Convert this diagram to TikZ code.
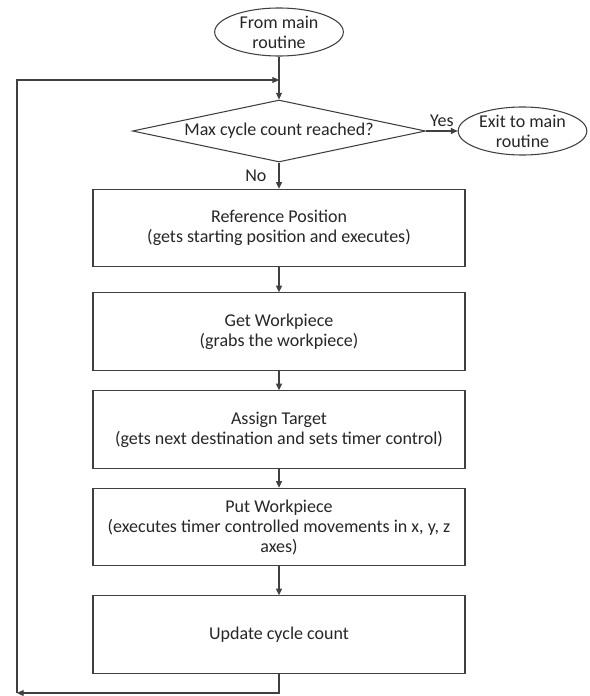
\documentclass[tikz,border=0pt]{standalone}
\usepackage{fontspec}
\setmainfont{Carlito}
\usetikzlibrary{shapes.geometric,arrows.meta}
\begin{document}
\begin{tikzpicture}[x=0.75pt,y=-0.75pt,
  every node/.style={font=\fontsize{13.5}{15}\selectfont, text=black!85},
  line/.style={draw=black!75, line width=0.8pt},
  arr/.style={line, -{Triangle[length=5pt,width=4.5pt]}},
  term/.style={ellipse, line, minimum width=96.5pt, minimum height=36pt, inner sep=0pt, align=center},
  proc/.style={rectangle, line, minimum width=279pt, minimum height=58pt, inner sep=0pt, align=center},
  decis/.style={diamond, line, aspect=4.7, minimum width=219.75pt, minimum height=46.5pt, inner sep=0pt, align=center},
  lbl/.style={inner sep=1pt}]
\useasboundingbox (0,0) rectangle (589,696);
\node[term] (start) at (279,32) {From main\\routine};
\node[decis] (dec) at (279,131) {Max cycle count reached?};
\node[term] (exit) at (522.5,131) {Exit to main\\routine};
\node[proc] (b1) at (279,228) {Reference Position\\(gets starting position and executes)};
\node[proc] (b2) at (279,331.5) {Get Workpiece\\(grabs the workpiece)};
\node[proc] (b3) at (279,429.5) {Assign Target\\(gets next destination and sets timer control)};
\node[proc] (b4) at (279,527) {Put Workpiece\\(executes timer controlled movements in x, y, z\\axes)};
\node[proc] (b5) at (279,634.5) {Update cycle count};
\coordinate (bl) at (17,693);
\coordinate (join) at (279,80);
\draw[arr] (start) -- (dec);
\draw[arr] (dec) -- node[lbl, above=2pt] {Yes} (exit);
\draw[arr] (dec) -- node[lbl, left=8pt] {No} (b1);
\draw[arr] (b1) -- (b2);
\draw[arr] (b2) -- (b3);
\draw[arr] (b3) -- (b4);
\draw[arr] (b4) -- (b5);
\draw[arr] (b5.south) |- (bl);
\draw[arr] (bl) |- (join);
\end{tikzpicture}
\end{document}
